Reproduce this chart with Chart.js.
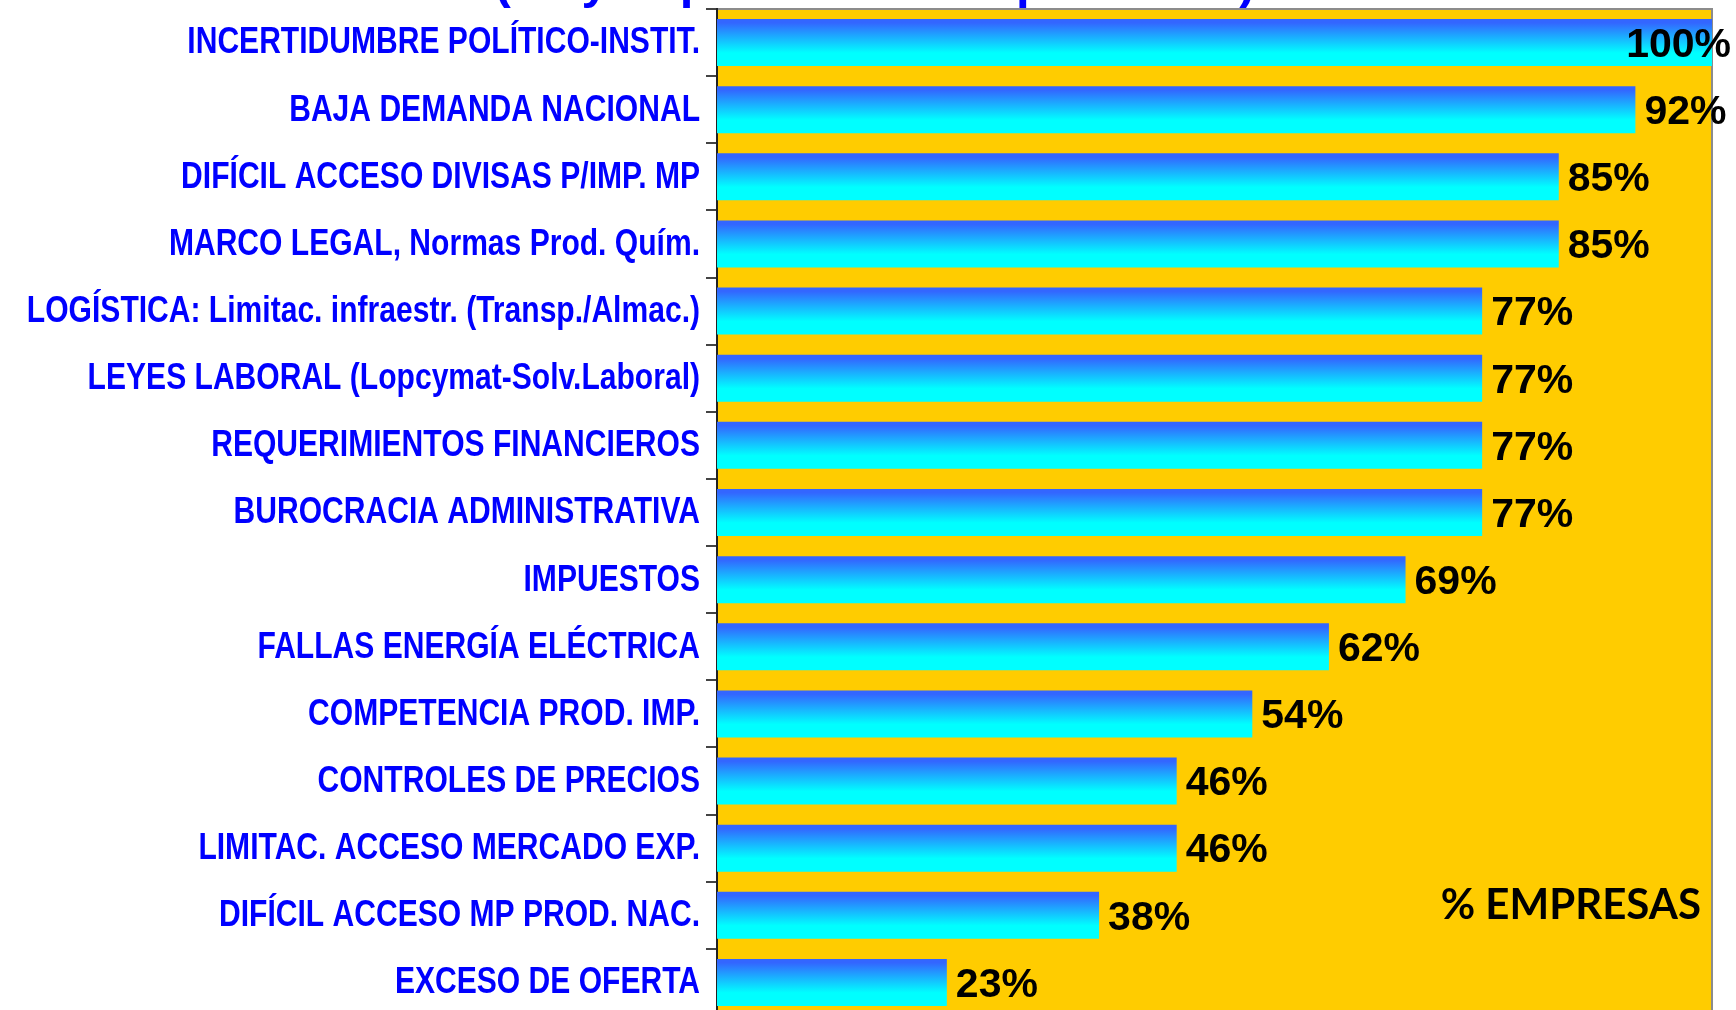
<!DOCTYPE html>
<html lang="es">
<head>
    <meta charset="UTF-8">
    <title>% Empresas</title>
    <script src="https://cdn.jsdelivr.net/npm/chart.js@4.4.0/dist/chart.umd.min.js"></script>
    <style>
        html, body { margin: 0; padding: 0; background: #fff; overflow: hidden; }
        #wrapper { width: 1736px; height: 1030px; position: relative; }
    </style>
</head>
<body>

    <div id="wrapper">
        <canvas id="barChart"></canvas>
    </div>

    <script>

        // data (share of companies, %)
        const categories = [
            'INCERTIDUMBRE POLÍTICO-INSTIT.',
            'BAJA DEMANDA NACIONAL',
            'DIFÍCIL ACCESO DIVISAS P/IMP. MP',
            'MARCO LEGAL, Normas Prod. Quím.',
            'LOGÍSTICA: Limitac. infraestr. (Transp./Almac.)',
            'LEYES LABORAL (Lopcymat-Solv.Laboral)',
            'REQUERIMIENTOS FINANCIEROS',
            'BUROCRACIA ADMINISTRATIVA',
            'IMPUESTOS',
            'FALLAS ENERGÍA ELÉCTRICA',
            'COMPETENCIA PROD. IMP.',
            'CONTROLES DE PRECIOS',
            'LIMITAC. ACCESO MERCADO EXP.',
            'DIFÍCIL ACCESO MP PROD. NAC.',
            'EXCESO DE OFERTA'
        ];
        const values = [100, 92.3, 84.6, 84.6, 76.9, 76.9, 76.9, 76.9, 69.2, 61.5, 53.8, 46.2, 46.2, 38.4, 23.1];

        const titleText = '(Muy Importantes + Importantes)';
        const unitText = '% EMPRESAS';

        const barPct = 0.70;

        function barGradient(c) {
            const chart = c.chart;
            const area = chart.chartArea;
            if (!area || c.type !== 'data') return '#33ccff';
            const yc = chart.scales.y.getPixelForValue(c.dataIndex);
            const h = (area.bottom - area.top) / categories.length * barPct;
            const g = chart.ctx.createLinearGradient(0, yc - h / 2, 0, yc + h / 2);
            g.addColorStop(0, '#3366ff');
            g.addColorStop(0.08, '#3366ff');
            g.addColorStop(0.72, '#00ffff');
            g.addColorStop(1, '#00ffff');
            return g;
        }

        // yellow plot area + grey frame on top and right
        const plotBackground = {
            id: 'plotBackground',
            beforeDraw(chart) {
                const { ctx, chartArea: a } = chart;
                ctx.save();
                ctx.fillStyle = '#ffcc00';
                ctx.fillRect(a.left, a.top, a.right - a.left, a.bottom - a.top);
                ctx.strokeStyle = '#8c8c8c';
                ctx.lineWidth = 2;
                ctx.beginPath();
                ctx.moveTo(a.left, a.top);
                ctx.lineTo(a.right, a.top);
                ctx.lineTo(a.right, a.bottom);
                ctx.stroke();
                ctx.restore();
            }
        };

        // category labels (narrow bold), value labels, title remnant, unit text
        const textLayer = {
            id: 'textLayer',
            afterDatasetsDraw(chart) {
                const ctx = chart.ctx;
                const yScale = chart.scales.y;
                ctx.save();

                ctx.font = 'bold 36px "Liberation Sans", Arial, sans-serif';
                ctx.fillStyle = '#0000ff';
                ctx.textAlign = 'right';
                ctx.textBaseline = 'middle';
                categories.forEach((lab, i) => {
                    const y = yScale.getPixelForTick(i);
                    ctx.save();
                    ctx.translate(700, y + 1);
                    ctx.scale(0.835, 1);
                    ctx.fillText(lab, 0, 0);
                    ctx.restore();
                });

                const meta = chart.getDatasetMeta(0);
                ctx.font = 'bold 41px "Liberation Sans", Arial, sans-serif';
                ctx.fillStyle = '#000';
                ctx.textAlign = 'left';
                meta.data.forEach((bar, i) => {
                    const txt = Math.round(values[i]) + '%';
                    const w = ctx.measureText(txt).width;
                    const x = Math.min(bar.x + 9, chart.width - 5 - w);
                    ctx.fillText(txt, x, bar.y + 3);
                });

                ctx.font = 'bold 42px Lato, "Open Sans", sans-serif';
                ctx.textAlign = 'right';
                ctx.textBaseline = 'alphabetic';
                ctx.fillText(unitText, 1701, 919);

                ctx.font = 'bold 49px "Liberation Sans", Arial, sans-serif';
                ctx.fillStyle = '#0000ff';
                ctx.textAlign = 'center';
                ctx.fillText(titleText, 875, -2);
                ctx.restore();
            }
        };

        const ctx = document.getElementById('barChart').getContext('2d');
        const barChart = new Chart(ctx, {
            type: 'bar',
            data: {
                labels: categories,
                datasets: [{
                    data: values,
                    backgroundColor: barGradient,
                    borderWidth: 0,
                    barPercentage: barPct,
                    categoryPercentage: 1.0
                }]
            },
            options: {
                indexAxis: 'y',
                responsive: true,
                maintainAspectRatio: false,
                animation: false,
                layout: {
                    padding: { top: 9, right: 24, bottom: 14, left: 0 }
                },
                plugins: {
                    legend: { display: false },
                    tooltip: { enabled: false }
                },
                scales: {
                    x: {
                        display: false,
                        min: 0,
                        max: 100
                    },
                    y: {
                        afterFit: function(scale) { scale.width = 717; },
                        border: { color: '#222', width: 2 },
                        grid: {
                            drawOnChartArea: false,
                            tickLength: 11,
                            color: '#444',
                            lineWidth: 2
                        },
                        ticks: {
                            display: false,
                            autoSkip: false
                        }
                    }
                }
            },
            plugins: [plotBackground, textLayer]
        });

    </script>

</body>
</html>
